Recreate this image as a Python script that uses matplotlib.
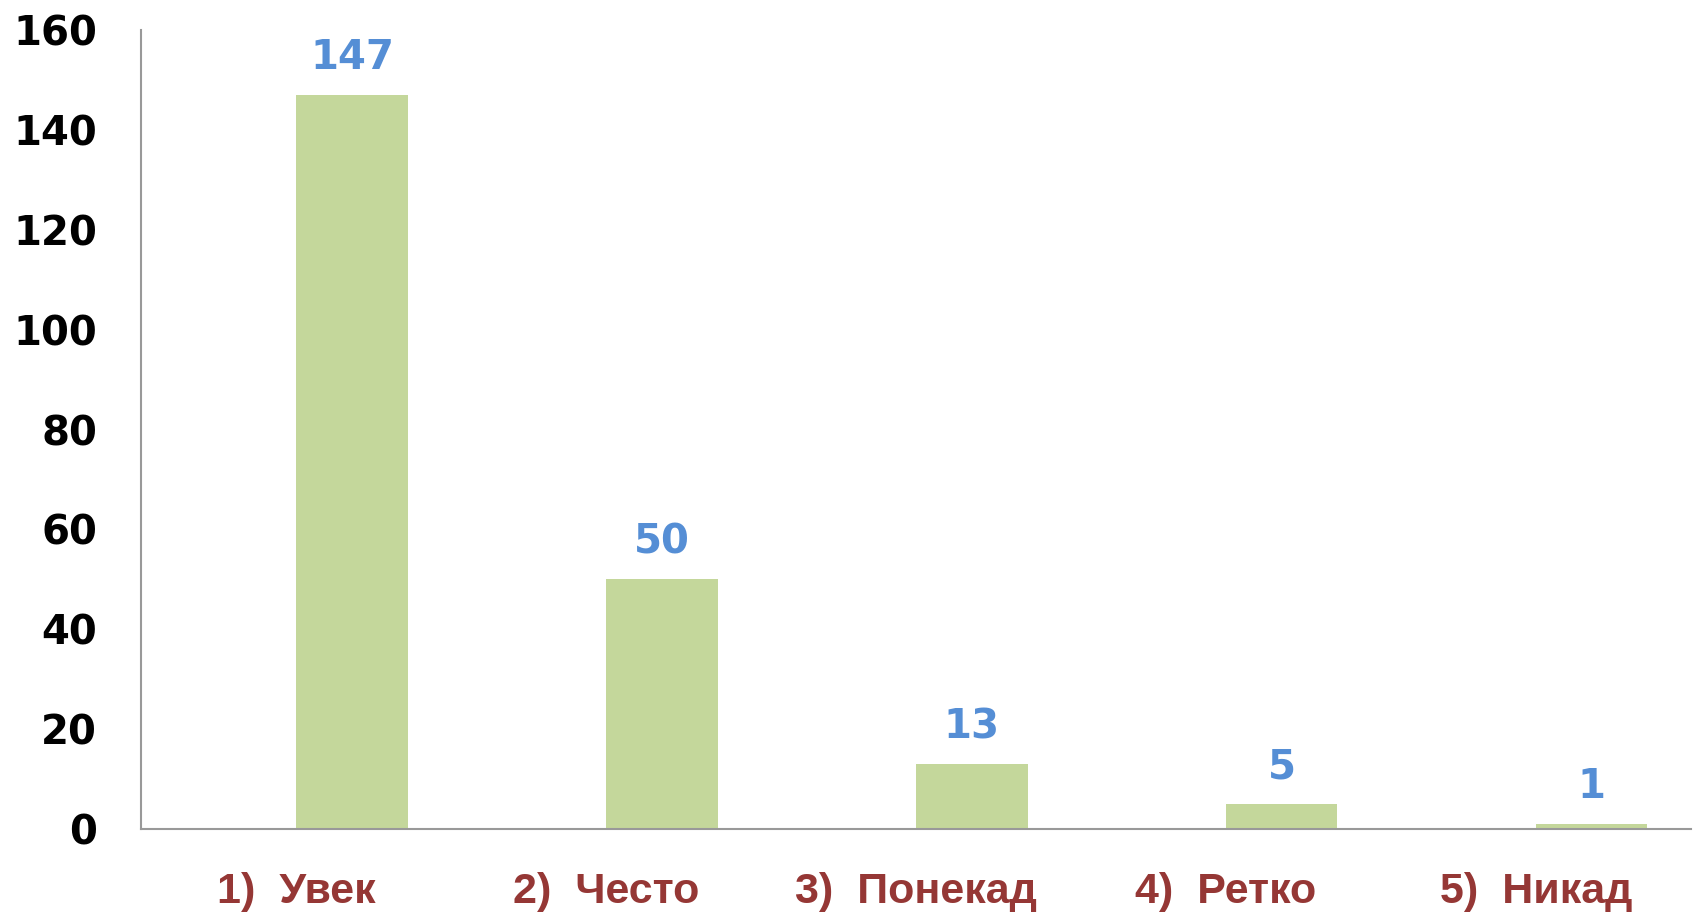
import matplotlib
matplotlib.use("Agg")
import matplotlib.pyplot as plt
import numpy as np

categories = ["1)  Увек", "2)  Често", "3)  Понекад", "4)  Ретко", "5)  Никад"]
counts = [147, 50, 13, 5, 1]
yticks = [0, 20, 40, 60, 80, 100, 120, 140, 160]

bar_color = "#C4D79B"
label_color = "#558ED5"
cat_color = "#953735"

fig = plt.figure(figsize=(16.94, 9.17), dpi=100)
ax = fig.add_axes([0.0835, 0.096, 0.9145, 0.871])

x = np.arange(len(categories))
bars = ax.bar(x, counts, width=0.36, align="edge", color=bar_color)

for b, v in zip(bars, counts):
    ax.annotate(str(v), (b.get_x() + b.get_width() / 2, v),
                xytext=(0, 12), textcoords="offset points",
                ha="center", va="bottom", fontsize=29, fontweight="bold",
                color=label_color, family="DejaVu Sans")

ax.set_xlim(-0.5, len(categories) - 0.5)
ax.set_ylim(0, 160)
ax.set_yticks(yticks)
ax.set_yticklabels([str(t) for t in yticks], fontsize=29, fontweight="bold",
                   family="DejaVu Sans")
ax.set_xticks(x)
ax.set_xticklabels(categories, fontsize=31, fontweight="bold", color=cat_color,
                   family="Liberation Sans")
ax.tick_params(axis="both", length=0)
ax.tick_params(axis="y", pad=32)
ax.tick_params(axis="x", pad=31)

for s in ["top", "right"]:
    ax.spines[s].set_visible(False)
for s in ["left", "bottom"]:
    ax.spines[s].set_color("#999999")
    ax.spines[s].set_linewidth(1.5)

fig.savefig("out.png", dpi=100)
